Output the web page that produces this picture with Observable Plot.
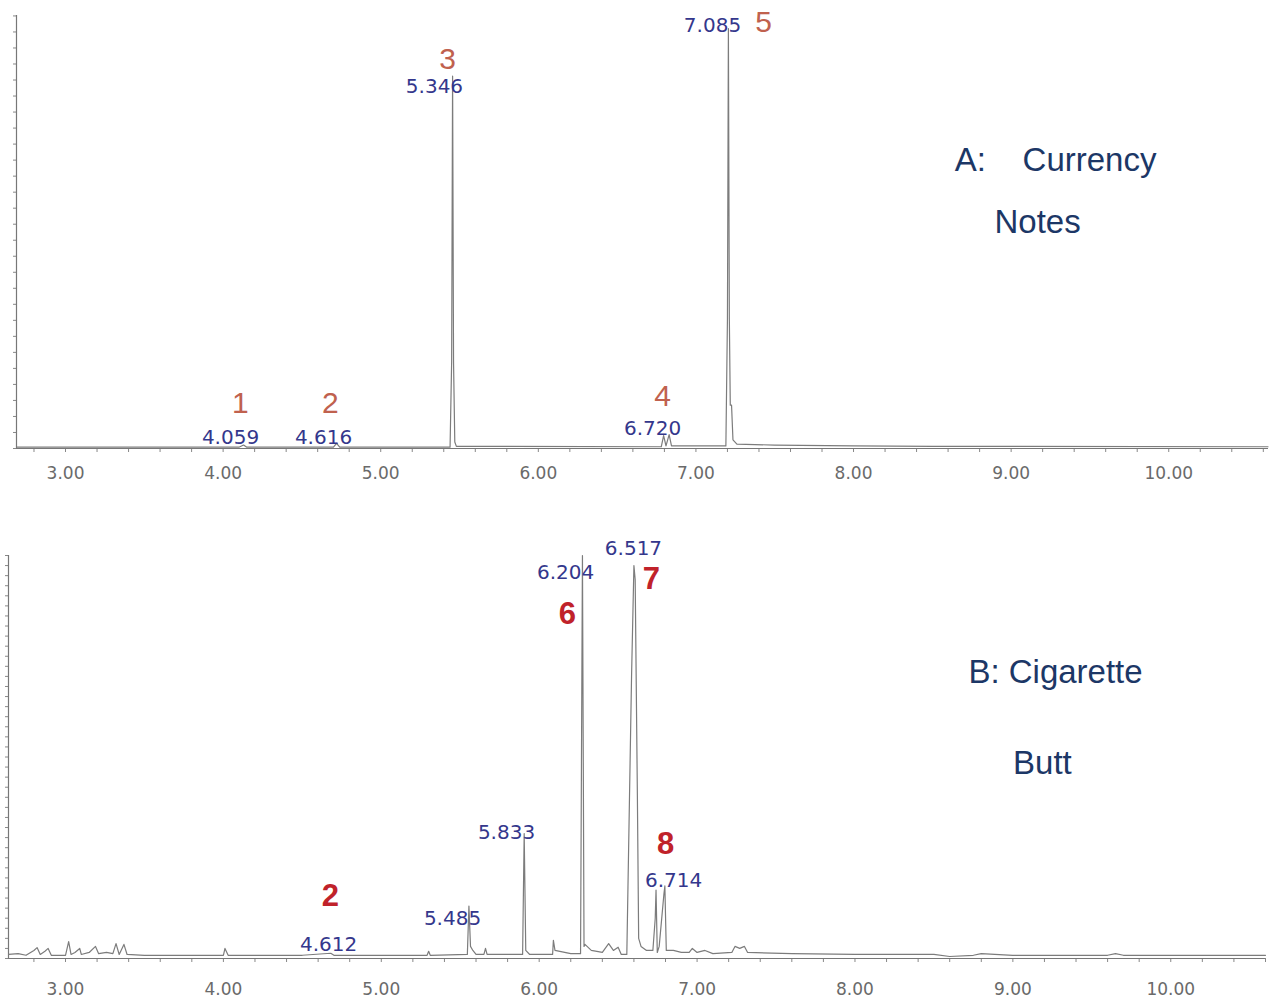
<!DOCTYPE html>
<html>
<head>
<meta charset="utf-8">
<script src="https://cdn.jsdelivr.net/npm/d3@7"></script>
<script src="https://cdn.jsdelivr.net/npm/@observablehq/plot@0.6"></script>
<style>
  html, body { margin: 0; padding: 0; background: #fff; }
  #wrap { width: 1271px; height: 1000px; position: relative; }
  #wrap svg { display: block; }
</style>
</head>
<body>
<div id="wrap"></div>
<script>
// ---------- Panel A: Currency Notes (retention time, relative abundance) ----------
const timeA = [2.69, 4.10, 4.13, 4.15, 4.70, 4.72, 4.74, 5.44, 5.450, 5.456, 5.462, 5.470, 5.48,
  6.78, 6.795, 6.81, 6.83, 6.845, 7.19, 7.200, 7.206, 7.212, 7.218, 7.226, 7.235, 7.26, 7.5, 8.0, 8.5, 10.63];
const abundA = [0.3, 0.3, 0.8, 0.3, 0.3, 1.2, 0.3, 0.3, 20, 86, 20, 1.5, 0.5,
  0.4, 3, 0.6, 3.2, 0.6, 0.6, 30, 97, 30, 10, 10, 2, 1, 0.8, 0.6, 0.5, 0.4];

const rtLabelA = ["4.059", "4.616", "5.346", "6.720", "7.085"];
const rtLabelAx = [4.047, 4.637, 5.341, 6.725, 7.105];
const rtLabelAy = [2.5, 2.5, 83.6, 4.6, 97.7];
const peakNumA = ["1", "2", "3", "4", "5"];
const peakNumAx = [4.110, 4.681, 5.424, 6.788, 7.429];
const peakNumAy = [10.4, 10.4, 89.8, 12.0, 98.4];
const titleA = ["A:\u00a0\u00a0\u00a0\u00a0Currency", "Notes"];
const titleAx = [9.282, 9.168];
const titleAy = [66.5, 52.2];

// ---------- Panel B: Cigarette Butt ----------
const timeB = [2.64, 2.70, 2.75, 2.80, 2.82, 2.84, 2.87, 2.89, 2.91, 3.00, 3.02, 3.035, 3.06, 3.09, 3.10,
  3.15, 3.19, 3.21, 3.26, 3.30, 3.32, 3.34, 3.37, 3.39, 3.5, 4.0, 4.01, 4.03, 4.5, 4.68, 4.70,
  5.29, 5.30, 5.31, 5.545, 5.555, 5.565, 5.58, 5.60, 5.65, 5.66, 5.67, 5.895, 5.905, 5.915, 5.94,
  6.085, 6.09, 6.10, 6.2, 6.262, 6.274, 6.284, 6.29, 6.33, 6.40, 6.44, 6.47, 6.50, 6.52,
  6.555, 6.585, 6.600, 6.608, 6.622, 6.63, 6.645, 6.68, 6.72, 6.735, 6.740, 6.748, 6.76,
  6.790, 6.796, 6.805, 6.85, 6.90, 6.95, 6.97, 7.0, 7.05, 7.10, 7.22, 7.24, 7.27, 7.30, 7.32,
  7.6, 8.0, 8.5, 8.6, 8.75, 8.8, 9.0, 9.6, 9.65, 9.7, 10.6];
const abundB = [1, 1.2, 0.8, 2, 2.7, 1, 1.8, 2.5, 0.8, 0.8, 4.2, 1, 1.5, 2.5, 1.0,
  1.5, 3, 1.2, 1.5, 1.2, 3.7, 1.0, 3.5, 1.0, 0.8, 0.8, 2.5, 0.8, 0.8, 1.3, 0.8,
  0.8, 1.8, 0.8, 1, 13, 3, 2, 1, 1, 2.5, 1, 1, 31, 2, 1,
  1, 4.5, 2, 1.2, 1.2, 100, 3, 3.5, 2, 1.5, 3.7, 2, 2.8, 1,
  1, 70, 97.5, 94, 40, 5, 3, 2, 2, 10, 17, 1.5, 3,
  16, 18, 2, 2, 1.5, 1.5, 2.5, 1.5, 2, 1.2, 1.5, 3, 2.5, 3, 1.5,
  1.2, 1, 1, 0.5, 0.8, 1.2, 0.8, 0.8, 1.2, 0.8, 0.8];

const rtLabelB = ["6.204", "6.517", "5.833", "6.714", "5.485", "4.612"];
const rtLabelBx = [6.167, 6.597, 5.793, 6.851, 5.451, 4.666];
const rtLabelBy = [95.8, 101.6, 31.3, 19.4, 9.9, 3.5];
const peakNumB = ["6", "7", "8", "2"];
const peakNumBx = [6.179, 6.711, 6.800, 4.678];
const peakNumBy = [85.4, 94.2, 28.5, 15.4];
const titleB = ["B: Cigarette", "Butt"];
const titleBx = [9.270, 9.187];
const titleBy = [71.0, 48.4];

const majorTicks = [3, 4, 5, 6, 7, 8, 9, 10];
const minorTicks = d3.range(2.8, 10.61, 0.2).map(v => +v.toFixed(1));

function panel({time, abund, rtL, rtX, rtY, pnL, pnX, pnY, pnColor, pnWeight, pnSize,
                tL, tX, tY, xDomain, yTicks, margins, height, labelPad}) {
  const rows = time.map((t, i) => ({t, a: abund[i]}));
  const rt = rtL.map((s, i) => ({s, x: rtX[i], y: rtY[i]}));
  const pn = pnL.map((s, i) => ({s, x: pnX[i], y: pnY[i]}));
  const tt = tL.map((s, i) => ({s, x: tX[i], y: tY[i]}));
  return Plot.plot({
    width: 1271,
    height,
    ...margins,
    style: {color: "#6a6a6a", fontFamily: "DejaVu Sans", background: "#fff", overflow: "visible"},
    x: {domain: xDomain},
    y: {domain: [0, 100]},
    marks: [
      Plot.axisY({ticks: yTicks, tickSize: 3, tickFormat: () => "", label: null, stroke: "#888"}),
      Plot.axisX({ticks: minorTicks, tickSize: 4, tickFormat: () => "", label: null, stroke: "#888"}),
      Plot.axisX({ticks: majorTicks, tickSize: 0, tickPadding: labelPad, tickFormat: d3.format(".2f"),
                  label: null, fontSize: 17, fill: "#6a6a6a"}),
      Plot.ruleX([xDomain[0]], {stroke: "#777", strokeWidth: 1.2}),
      Plot.ruleY([0], {stroke: "#777", strokeWidth: 1.2}),
      Plot.line(rows, {x: "t", y: "a", stroke: "#7c7c7c", strokeWidth: 1.2, curve: "linear"}),
      Plot.text(rt, {x: "x", y: "y", text: "s", fill: "#34378c", fontSize: 20, fontFamily: "DejaVu Sans"}),
      Plot.text(pn, {x: "x", y: "y", text: "s", fill: pnColor, fontSize: pnSize, fontWeight: pnWeight,
                     fontFamily: "Liberation Sans"}),
      Plot.text(tt, {x: "x", y: "y", text: "s", fill: "#1c3766", fontSize: 33, fontFamily: "Liberation Sans"})
    ]
  });
}

const wrap = document.getElementById("wrap");
wrap.appendChild(panel({
  time: timeA, abund: abundA,
  rtL: rtLabelA, rtX: rtLabelAx, rtY: rtLabelAy,
  pnL: peakNumA, pnX: peakNumAx, pnY: peakNumAy, pnColor: "#c0614e", pnWeight: "normal", pnSize: 30,
  tL: titleA, tX: titleAx, tY: titleAy,
  xDomain: [2.689, 10.633],
  yTicks: d3.range(0, 100.1, 3.7),
  margins: {marginTop: 15, marginBottom: 52, marginLeft: 16, marginRight: 3},
  height: 500, labelPad: 18
}));
wrap.appendChild(panel({
  time: timeB, abund: abundB,
  rtL: rtLabelB, rtX: rtLabelBx, rtY: rtLabelBy,
  pnL: peakNumB, pnX: peakNumBx, pnY: peakNumBy, pnColor: "#c0222a", pnWeight: "bold", pnSize: 31,
  tL: titleB, tX: titleBx, tY: titleBy,
  xDomain: [2.639, 10.600],
  yTicks: d3.range(0, 100.1, 2.5),
  margins: {marginTop: 55, marginBottom: 42, marginLeft: 8, marginRight: 6},
  height: 500, labelPad: 24
}));
</script>
</body>
</html>
